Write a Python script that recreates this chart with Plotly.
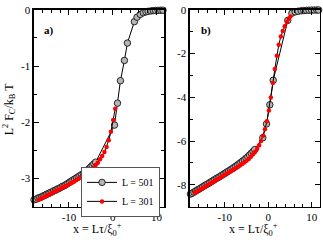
import plotly.graph_objects as go

# ---------------- data ----------------
# panel a)
a501_x = [-18.0, -17.5, -17.1, -16.7, -16.3, -15.9, -15.5, -15.1, -14.7, -14.3, -13.9, -13.5,
          -13.1, -12.7, -12.3, -11.9, -11.5, -11.1, -10.7, -10.3, -9.9, -9.5, -9.1, -8.7,
          -8.3, -7.9, -7.5, -7.1, -6.7, -6.3, -5.9, -5.5, -5.1, -4.7, -4.3, -3.9,
          0.41, 1.09, 1.77, 2.68, 3.36, 4.95, 5.57, 6.3, 7.0, 7.6, 8.1, 8.75, 9.3, 9.8,
          10.4, 11.0, 11.5]
a501_y = [-3.38, -3.37, -3.35, -3.34, -3.33, -3.31, -3.30, -3.28, -3.27, -3.25, -3.24, -3.22,
          -3.21, -3.19, -3.18, -3.16, -3.14, -3.13, -3.11, -3.09, -3.07, -3.05, -3.03, -3.01,
          -2.99, -2.97, -2.95, -2.93, -2.91, -2.88, -2.86, -2.83, -2.80, -2.77, -2.74, -2.71,
          -2.05, -1.66, -1.26, -0.90, -0.59, -0.21, -0.13, -0.08, -0.05, -0.035, -0.025,
          -0.018, -0.013, -0.01, -0.008, -0.006, -0.005]
a301_x = [0.57, 0.11, -0.41, -0.9, -1.4, -1.9, -2.4, -2.9, -3.4, -3.9, -4.4, -4.9, -5.4,
          -5.9, -6.4, -6.9, -7.4, -7.9, -8.4, -8.9, -9.4, -9.9, -10.4, -10.9, -11.4, -11.9,
          -12.4, -12.9, -13.4, -13.9, -14.4, -14.9, -15.4, -15.9, -16.4, -16.9]
a301_y = [-1.76, -1.96, -2.17, -2.32, -2.44, -2.53, -2.60, -2.66, -2.72, -2.76, -2.80, -2.84,
          -2.87, -2.90, -2.93, -2.96, -2.98, -3.01, -3.03, -3.06, -3.08, -3.10, -3.12, -3.14,
          -3.16, -3.18, -3.20, -3.22, -3.24, -3.26, -3.28, -3.30, -3.32, -3.34, -3.36, -3.38]

# panel b)
b501_x = [-17.9, -17.5, -17.1, -16.7, -16.3, -15.9, -15.5, -15.1, -14.7, -14.3, -13.9, -13.5,
          -13.1, -12.7, -12.3, -11.9, -11.5, -11.1, -10.7, -10.3, -9.9, -9.5, -9.1, -8.7,
          -8.3, -7.9, -7.5, -7.1, -6.7, -6.3, -5.9, -5.5, -5.1, -4.7, -4.3, -3.9, -3.5, -3.1,
          -1.25, -0.4, 0.37, 1.15, 4.5, 5.45, 6.2, 6.9, 7.6, 8.2, 8.8, 9.4, 10.0, 10.6,
          11.2, 11.6]
b501_y = [-8.43, -8.39, -8.34, -8.29, -8.24, -8.20, -8.15, -8.10, -8.05, -8.00, -7.96, -7.91,
          -7.86, -7.81, -7.76, -7.71, -7.67, -7.62, -7.57, -7.52, -7.47, -7.42, -7.37, -7.32,
          -7.27, -7.21, -7.16, -7.10, -7.04, -6.98, -6.92, -6.86, -6.79, -6.72, -6.64, -6.56,
          -6.48, -6.39, -5.85, -5.22, -4.34, -3.22, -0.48, -0.15, -0.09, -0.06, -0.04, -0.03,
          -0.02, -0.015, -0.01, -0.008, -0.006, -0.005]
b301_x = [5.1, 4.7, 4.3, 3.8, 3.35, 2.9, 2.43, 1.98, 1.52, 1.07, 0.61, 0.16, -0.3, -0.75,
          -1.2, -1.65, -2.1, -2.55, -3.0, -3.5, -4.0, -4.5, -5.0, -5.5, -6.0, -6.5, -7.0,
          -7.5, -8.0, -8.5, -9.0, -9.5, -10.0, -10.5, -11.0, -11.5, -12.0, -12.5, -13.0,
          -13.5, -14.0, -14.5, -15.0, -15.5, -16.0, -16.5, -16.9]
b301_y = [-0.30, -0.41, -0.55, -0.75, -0.96, -1.22, -1.60, -2.10, -2.70, -3.35, -4.01, -4.60,
          -5.10, -5.46, -5.76, -6.00, -6.19, -6.35, -6.49, -6.61, -6.72, -6.82, -6.90, -6.98,
          -7.05, -7.12, -7.19, -7.25, -7.31, -7.37, -7.43, -7.49, -7.55, -7.61, -7.67, -7.73,
          -7.79, -7.85, -7.91, -7.97, -8.03, -8.09, -8.15, -8.21, -8.27, -8.33, -8.37]

x_ticks = [-10, 0, 10]
x_ticktext = ["-10", "0", "10"]
ya_ticks = [0, -1, -2, -3]
ya_ticktext = ["0", "-1", "-2", "-3"]
yb_ticks = [0, -2, -4, -6, -8]
yb_ticktext = ["0", "-2", "-4", "-6", "-8"]

FONT = "Liberation Serif"
W, H = 323, 240

fig = go.Figure()

gray_marker = dict(symbol="circle", size=6.5, color="#b4b4b4", line=dict(color="black", width=0.8))
red_marker = dict(symbol="circle", size=4.5, color="#ff0000", line=dict(width=0))

fig.add_trace(go.Scatter(x=a501_x, y=a501_y, mode="lines+markers", name="L = 501",
                         line=dict(color="black", width=1), marker=gray_marker,
                         xaxis="x", yaxis="y", cliponaxis=False))
fig.add_trace(go.Scatter(x=a301_x, y=a301_y, mode="lines+markers", name="L = 301",
                         line=dict(color="black", width=1), marker=red_marker,
                         xaxis="x", yaxis="y", cliponaxis=False))
fig.add_trace(go.Scatter(x=b501_x, y=b501_y, mode="lines+markers", showlegend=False,
                         line=dict(color="black", width=1), marker=gray_marker,
                         xaxis="x2", yaxis="y2", cliponaxis=False))
fig.add_trace(go.Scatter(x=b301_x, y=b301_y, mode="lines+markers", showlegend=False,
                         line=dict(color="black", width=1), marker=red_marker,
                         xaxis="x2", yaxis="y2", cliponaxis=False))

ydom = [1 - 205.7 / H, 1 - 4 / H]

def axis(dom, rng, tv, tt, minor_dtick, anchor):
    return dict(domain=dom, range=rng, tickvals=tv, ticktext=tt, ticks="inside", ticklen=5,
                tickwidth=1, tickcolor="black", showline=True, linecolor="black", linewidth=1.6,
                mirror="allticks", showgrid=False, zeroline=False, anchor=anchor,
                ticklabeloverflow="allow",
                tickfont=dict(family=FONT, size=11, color="black"),
                minor=dict(ticks="inside", dtick=minor_dtick, ticklen=3, tickwidth=1,
                           tickcolor="black", showgrid=False))

fig.update_layout(
    width=W, height=H, margin=dict(l=0, r=0, t=0, b=0),
    paper_bgcolor="white", plot_bgcolor="white",
    xaxis=axis([34 / W, 164.3 / W], [-18, 11.8], x_ticks, x_ticktext, 2, "y"),
    yaxis=axis(ydom, [-3.5, 0], ya_ticks, ya_ticktext, 0.5, "x"),
    xaxis2=axis([190 / W, 319.5 / W], [-18, 11.8], x_ticks, x_ticktext, 2, "y2"),
    yaxis2=axis(ydom, [-9, 0], yb_ticks, yb_ticktext, 1, "x2"),
    legend=dict(x=160 / W, y=1 - 165 / H, xanchor="right", yanchor="top",
                bgcolor="white", bordercolor="#555555", borderwidth=1,
                font=dict(family=FONT, size=10, color="black"),
                itemwidth=30, tracegroupgap=0),
    font=dict(family=FONT, color="black"),
    hovermode=False,
)

xtitle = "x = Lτ/ξ<sub>0</sub><sup>+</sup>"
common = dict(xref="paper", yref="paper", showarrow=False, xanchor="center", yanchor="middle")
ann = [
    dict(text=xtitle, x=97 / W, y=1 - 229 / H, font=dict(family=FONT, size=12, color="black"), **common),
    dict(text=xtitle, x=253 / W, y=1 - 229 / H, font=dict(family=FONT, size=12, color="black"), **common),
    dict(text="L<sup>2</sup> F<sub>C</sub>/k<sub>B</sub> T", x=9 / W, y=1 - 106 / H,
         textangle=-90, font=dict(family=FONT, size=12, color="black"), **common),
    dict(text="<b>a)</b>", x=49 / W, y=1 - 25 / H, font=dict(family=FONT, size=11, color="black"), **common),
    dict(text="<b>b)</b>", x=206 / W, y=1 - 25 / H, font=dict(family=FONT, size=11, color="black"), **common),
]
fig.update_layout(annotations=ann)

fig.write_html("out.html", config={"displayModeBar": False, "staticPlot": True},
               post_script="document.body.style.margin='0';document.body.style.padding='0';")
